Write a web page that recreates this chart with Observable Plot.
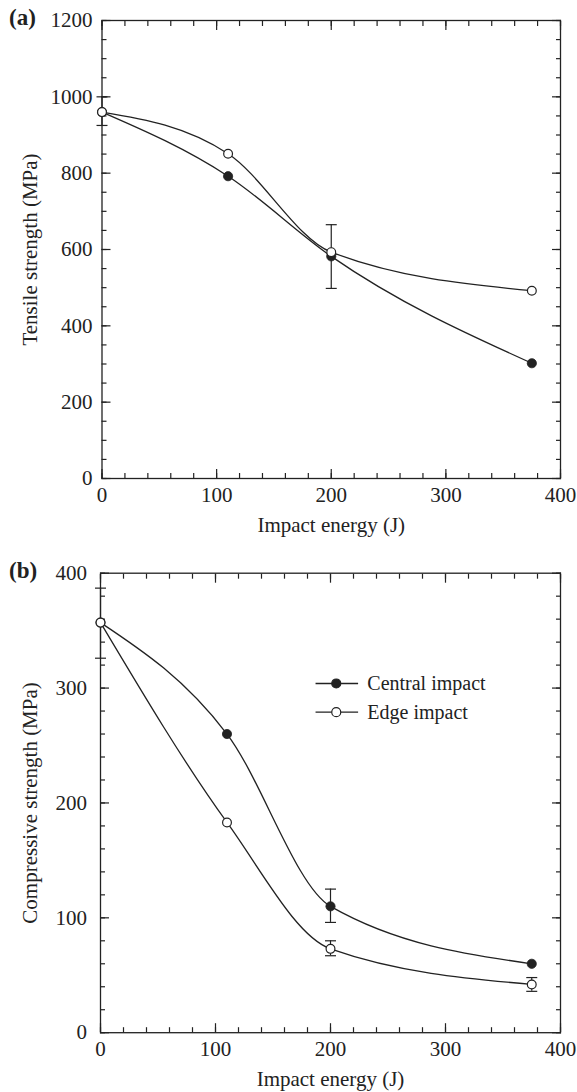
<!DOCTYPE html>
<html><head><meta charset="utf-8">
<script src="https://cdn.jsdelivr.net/npm/d3@7"></script>
<script src="https://cdn.jsdelivr.net/npm/@observablehq/plot@0.6"></script>
<style>
body{margin:0;background:#fff;}
#wrap{position:relative;width:577px;height:1092px;font-family:"Liberation Serif","Times New Roman",serif;color:#222;}
.panel{position:absolute;left:0;}
.tag{position:absolute;left:9px;font-weight:bold;font-size:23px;line-height:23px;}
</style></head><body>
<div id="wrap"></div>
<script>
// ---- data ----
const energy = [0, 110, 200, 375];
const seriesNames = ["Central impact", "Edge impact"];

const tensileCentral = [960, 792, 582, 302];
const tensileEdge    = [960, 851, 593, 492];
const tensileErrX    = [0, 200];
const tensileErrLow  = [925, 498];
const tensileErrHigh = [1000, 665];

const compCentral = [357, 260, 110, 60];
const compEdge    = [357, 183, 73, 42];
const compErrX    = [0, 200, 200, 375];
const compErrLow  = [326, 96, 67, 36];
const compErrHigh = [387, 125, 80, 48];

const xTicksMajor = [0, 100, 200, 300, 400];
const xTicksMinor = d3.range(0, 401, 20);
const tensileTicksMajor = [0, 200, 400, 600, 800, 1000, 1200];
const tensileTicksMinor = d3.range(0, 1201, 50);
const compTicksMajor = [0, 100, 200, 300, 400];
const compTicksMinor = d3.range(0, 401, 20);

// ---- drawing ----
const ink = "#222";
const capSymbol = {draw(ctx, size){ const w = Math.sqrt(size/Math.PI); ctx.moveTo(-w,0); ctx.lineTo(w,0); }};

function panel(o){
  const central = energy.map((x,i)=>({x, y:o.central[i]}));
  const edge = energy.map((x,i)=>({x, y:o.edge[i]}));
  const errs = o.errX.map((x,i)=>({x, lo:o.errLow[i], hi:o.errHigh[i]}));
  const caps = errs.flatMap(d=>[{x:d.x,y:d.lo},{x:d.x,y:d.hi}]);
  const tk = {stroke: ink, strokeWidth: 1.2, fill: "none", label: null};
  const marks = [
    Plot.frame({stroke: ink, strokeWidth: 1.3}),
    Plot.axisX(xTicksMajor, {anchor:"bottom", tickSize:-9, ...tk}),
    Plot.axisX(xTicksMajor, {anchor:"top", tickSize:-9, ...tk}),
    Plot.axisX(xTicksMinor, {anchor:"bottom", tickSize:-5, ...tk}),
    Plot.axisX(xTicksMinor, {anchor:"top", tickSize:-5, ...tk}),
    Plot.axisY(o.yMajor, {anchor:"left", tickSize:-9, ...tk}),
    Plot.axisY(o.yMajor, {anchor:"right", tickSize:-9, ...tk}),
    Plot.axisY(o.yMinor, {anchor:"left", tickSize:-5, ...tk}),
    Plot.axisY(o.yMinor, {anchor:"right", tickSize:-5, ...tk}),
    Plot.axisX(xTicksMajor, {anchor:"bottom", tickSize:0, tickPadding:o.xPad, tickFormat:"d", fill: ink, fontSize:21,
      label:"Impact energy (J)", labelAnchor:"center", labelOffset:o.xLabelOffset, labelArrow:"none"}),
    Plot.axisY(o.yMajor, {anchor:"left", tickSize:0, tickPadding:o.yPad, tickFormat:"d", fill: ink, fontSize:21,
      label:o.yLabel, labelAnchor:"center", labelOffset:o.yLabelOffset, labelArrow:"none"}),
    Plot.line(central, {x:"x", y:"y", curve:"monotone-x", stroke: ink, strokeWidth:1.3}),
    Plot.line(edge, {x:"x", y:"y", curve:"monotone-x", stroke: ink, strokeWidth:1.3}),
    Plot.ruleX(errs, {x:"x", y1:"lo", y2:"hi", stroke: ink, strokeWidth:1.2}),
    Plot.dot(caps, {x:"x", y:"y", symbol: capSymbol, r:5.5, fill:"none", stroke: ink, strokeWidth:1.2}),
    Plot.dot(central, {x:"x", y:"y", r:4.6, fill: ink, stroke: ink, strokeWidth:0.8}),
    Plot.dot(edge, {x:"x", y:"y", r:4.4, fill:"white", stroke: ink, strokeWidth:1.2})
  ];
  if (o.legend) {
    const L = o.legend;
    const rows = seriesNames.map((name,i)=>({name, y:L.y[i], filled: i===0}));
    marks.push(
      Plot.link(rows, {x1:()=>L.x1, x2:()=>L.x2, y1:"y", y2:"y", stroke: ink, strokeWidth:1.3}),
      Plot.dot(rows, {x:()=>L.dotX, y:"y", r:4.5, fill:d=>d.filled?ink:"white", stroke: ink, strokeWidth:1.2}),
      Plot.text(rows, {x:()=>L.textX, y:"y", text:"name", textAnchor:"start", fontSize:20, fill: ink})
    );
  }
  return Plot.plot({
    width:577, height:o.height,
    marginLeft:o.marginLeft, marginRight:17, marginTop:o.marginTop, marginBottom:o.marginBottom,
    style:{fontFamily:'"Liberation Serif","Times New Roman",serif', fontSize:"21px", color: ink, background:"white", overflow:"visible"},
    x:{domain:[0,400]},
    y:{domain:o.yDomain},
    marks
  });
}

const wrap = document.getElementById("wrap");
const a = panel({height:546, marginTop:20, marginBottom:68, marginLeft:101.5,
  yDomain:[0,1200], yMajor:tensileTicksMajor, yMinor:tensileTicksMinor, yLabel:"Tensile strength (MPa)",
  central:tensileCentral, edge:tensileEdge, errX:tensileErrX, errLow:tensileErrLow, errHigh:tensileErrHigh,
  xPad:9, yPad:9.5, xLabelOffset:53, yLabelOffset:80});
a.classList.add("panel"); a.style.top = "0px";
const b = panel({height:546, marginTop:26.7, marginBottom:59.8, marginLeft:100,
  yDomain:[0,400], yMajor:compTicksMajor, yMinor:compTicksMinor, yLabel:"Compressive strength (MPa)",
  central:compCentral, edge:compEdge, errX:compErrX, errLow:compErrLow, errHigh:compErrHigh,
  xPad:8.5, yPad:13.5, xLabelOffset:53.5, yLabelOffset:78.5,
  legend:{y:[304, 279], x1:187, x2:224, dotX:205, textX:232}});
b.classList.add("panel"); b.style.top = "546px";
wrap.appendChild(a); wrap.appendChild(b);

const ta = document.createElement("div"); ta.className="tag"; ta.textContent="(a)"; ta.style.top="6px";
const tb = document.createElement("div"); tb.className="tag"; tb.textContent="(b)"; tb.style.top="559px";
wrap.appendChild(ta); wrap.appendChild(tb);
</script>
</body></html>
